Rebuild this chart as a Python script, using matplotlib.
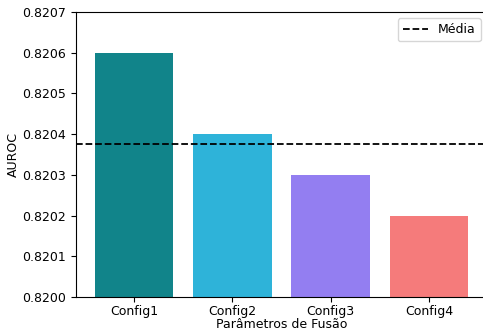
import numpy as np
import matplotlib.pyplot as plt
from matplotlib.ticker import FormatStrFormatter

configs = ['Config1', 'Config2', 'Config3', 'Config4']
auroc = [0.8206, 0.8204, 0.8203, 0.8202]
colors = ['#11848a', '#2eb3d9', '#937ef1', '#f57b7b']

fig = plt.figure(figsize=(4.83, 3.32), dpi=100)
ax = fig.add_axes([0.157, 0.1054, 0.851, 0.8585])

x = np.arange(len(configs))
ax.bar(x, auroc, width=0.8, color=colors)
ax.axhline(np.mean(auroc), color='k', linestyle='--', linewidth=1.3, label='Média')

ax.set_ylim(0.8200, 0.8207)
ax.yaxis.set_major_formatter(FormatStrFormatter('%.4f'))
ax.set_xticks(x)
ax.set_xticklabels(configs)
ax.tick_params(labelsize=9)
ax.tick_params(axis='x', pad=2)
ax.set_xlabel('Parâmetros de Fusão', fontsize=9)
ax.xaxis.set_label_coords(0.5, -0.075)
ax.set_ylabel('AUROC', fontsize=9)
ax.yaxis.set_label_coords(-0.137, 0.5)
ax.legend(loc='upper right', fontsize=9)

fig.savefig('out.png', dpi=100)
